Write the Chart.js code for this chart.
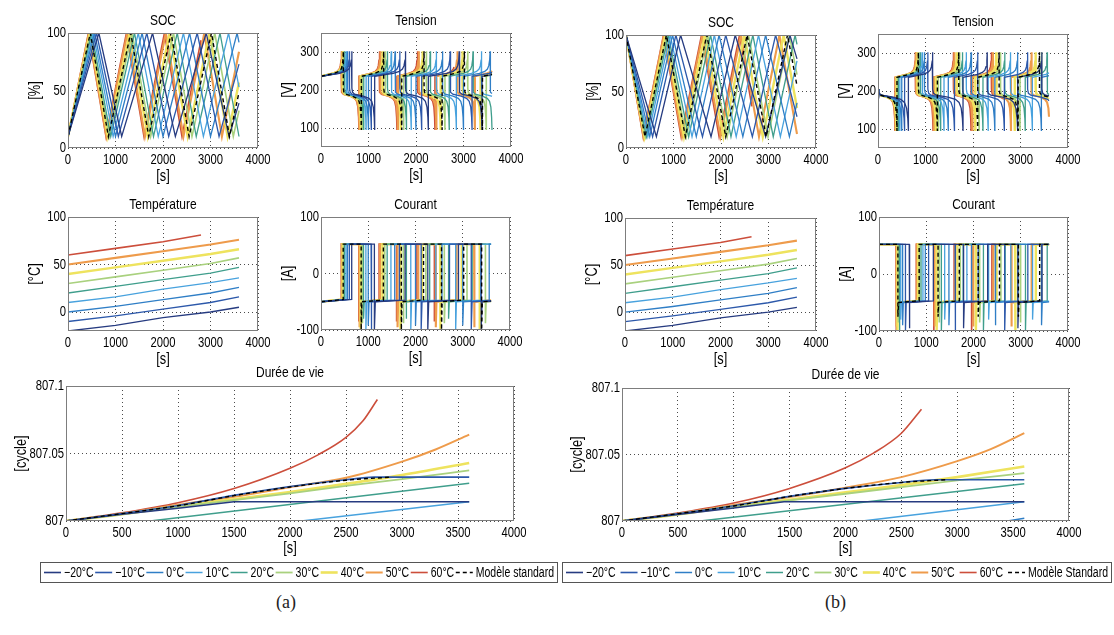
<!DOCTYPE html>
<html>
<head>
<meta charset="utf-8">
<script src="https://cdn.jsdelivr.net/npm/chart.js@4.4.1/dist/chart.umd.min.js"></script>
<style>
  body { margin: 0; background: #fff; width: 1114px; height: 635px; position: relative; overflow: hidden; }
  canvas { position: absolute; }
  .cap { position: absolute; top: 592px; font: 18px 'Liberation Serif', 'DejaVu Serif', serif; color: #222; }
</style>
</head>
<body>
<canvas id="socA"></canvas><canvas id="voltA"></canvas><canvas id="tempA"></canvas><canvas id="currA"></canvas><canvas id="lifeA"></canvas>
<canvas id="socB"></canvas><canvas id="voltB"></canvas><canvas id="tempB"></canvas><canvas id="currB"></canvas><canvas id="lifeB"></canvas>
<div class="cap" style="left:276px">(a)</div>
<div class="cap" style="left:825px">(b)</div>
<script>
// ---- labels / ticks ----
const tempNames = ['−20°C', '−10°C', '0°C', '10°C', '20°C', '30°C', '40°C', '50°C', '60°C'];
const stdNameA = 'Modèle standard';
const stdNameB = 'Modèle Standard';
const palette = ['#263b80', '#2c58aa', '#2f7ec6', '#48a2de', '#3f9e8c', '#a9d17e', '#eee35e', '#ee9b4b', '#cc4e3b'];
const tTicks = [0, 1000, 2000, 3000, 4000];
const tTicksLife = [0, 500, 1000, 1500, 2000, 2500, 3000, 3500, 4000];
const socTicks = [0, 50, 100];
const voltTicks = [100, 200, 300];
const tempTicks = [0, 50, 100];
const currTicks = [-100, 0, 100];
const lifeTicks = [807, 807.05, 807.1];
const lifeTickLabels = ['807', '807.05', '807.1'];

// ---- cycle turning points (s): SOC alternates 10 % / 100 % ----
// (a) starts low (charging), order: -20,-10,0,10,20,30,40,50,60,standard
const cycA_m20 = [0, 650, 1130, 1780, 2260, 2910, 3390, 4040];
const cycA_m10 = [0, 600, 1060, 1660, 2120, 2720, 3180, 3780];
const cycA_p0 = [0, 560, 1000, 1560, 2000, 2560, 3000, 3560, 4000];
const cycA_p10 = [0, 530, 950, 1480, 1900, 2430, 2850, 3380, 3800];
const cycA_p20 = [0, 500, 900, 1400, 1800, 2300, 2700, 3200, 3600];
const cycA_p30 = [0, 480, 870, 1350, 1740, 2220, 2610, 3090, 3480, 3960];
const cycA_p40 = [0, 460, 840, 1300, 1680, 2140, 2520, 2980, 3360, 3820];
const cycA_p50 = [0, 440, 810, 1250, 1620, 2060, 2430, 2870, 3240, 3680];
const cycA_p60 = [0, 430, 800, 1230, 1600, 2030, 2400, 2830, 3200];
const cycA_std = [0, 470, 850, 1320, 1700, 2170, 2550, 3020, 3400, 3870];
const endA = [3600, 3600, 3600, 3600, 3600, 3600, 3600, 3600, 2800, 3600];
const spikeA = [-100, -100, -92, -100, -80, -88, -100, -95, -85, -100];
// (b) starts high (discharging)
const cycB_m20 = [0, 640, 1150, 1790, 2300, 2940, 3450, 4090];
const cycB_m10 = [0, 560, 1050, 1610, 2100, 2660, 3150, 3710];
const cycB_p0 = [0, 500, 980, 1480, 1960, 2460, 2940, 3440, 3920];
const cycB_p10 = [0, 460, 930, 1390, 1860, 2320, 2790, 3250, 3720];
const cycB_p20 = [0, 430, 890, 1320, 1780, 2210, 2670, 3100, 3560, 3990];
const cycB_p30 = [0, 410, 860, 1270, 1720, 2130, 2580, 2990, 3440, 3850];
const cycB_p40 = [0, 390, 830, 1220, 1660, 2050, 2490, 2880, 3320, 3710];
const cycB_p50 = [0, 370, 800, 1180, 1610, 1990, 2420, 2800, 3230, 3610];
const cycB_p60 = [0, 360, 790, 1160, 1590, 1960, 2390, 2760];
const cycB_std = [0, 400, 850, 1250, 1700, 2100, 2550, 2950, 3400, 3800];
const endB = [3600, 3600, 3600, 3600, 3600, 3600, 3600, 3600, 2650, 3600];
const spikeB = [-95, -100, -90, -80, -100, -85, -100, -92, -100, -75];

// ---- shape of one phase: [fraction of phase, value] ----
const socCharge = [[0, 10], [1, 100]];
const socDischarge = [[0, 100], [1, 10]];
const voltCharge = [[0, 236], [0.3, 240], [0.6, 244], [0.8, 249], [0.9, 255], [0.95, 264], [0.985, 280], [1, 302]];
const voltDischarge = [[0, 205], [0.03, 194], [0.12, 189], [0.5, 184], [0.75, 178], [0.87, 170], [0.94, 155], [0.98, 128], [1, 95]];
const currCharge = [[0, -100], [0.03, -50], [1, -47]];
const currChargeFirst = [[0, -50], [1, -46]];
const currDischarge = [[0, 52], [1, 52]];

// ---- temperature [°C] ----
const tempA_m20 = [[0, -20], [1000, -14], [2000, -6], [3000, 0], [3600, 5]];
const tempA_m10 = [[0, -10], [1000, -4], [2000, 3], [3000, 10], [3600, 16]];
const tempA_p0 = [[0, 0], [1000, 6], [2000, 13], [3000, 20], [3600, 26]];
const tempA_p10 = [[0, 10], [1000, 16], [2000, 24], [3000, 31], [3600, 36]];
const tempA_p20 = [[0, 20], [1000, 27], [2000, 34], [3000, 41], [3600, 47]];
const tempA_p30 = [[0, 30], [1000, 37], [2000, 44], [3000, 51], [3600, 57]];
const tempA_p40 = [[0, 40], [1000, 47], [2000, 54], [3000, 61], [3600, 66]];
const tempA_p50 = [[0, 50], [1000, 57], [2000, 64], [3000, 71], [3600, 76]];
const tempA_p60 = [[0, 60], [1000, 67], [2000, 74], [2800, 81]];
const tempB_p60 = [[0, 60], [1000, 67], [2000, 74], [2650, 80]];

// ---- lifetime [cycle] ----
const lifeA_m20 = [[0, 807], [500, 807.005], [1000, 807.0095], [1500, 807.0143], [3600, 807.0143]];
const lifeA_m10 = [[0, 807], [500, 807.0055], [1000, 807.0115], [1500, 807.019], [2000, 807.0255], [2500, 807.0305], [2750, 807.0325], [3600, 807.0325]];
const lifeA_p0 = [[0, 807], [3600, 807]];
const lifeA_p10 = [[0, 807], [2100, 807], [3600, 807.0143]];
const lifeA_p20 = [[0, 807], [750, 807], [3600, 807.028]];
const lifeA_p30 = [[0, 807], [500, 807.005], [1000, 807.0105], [1500, 807.0155], [2000, 807.0205], [2500, 807.026], [3000, 807.031], [3600, 807.0375]];
const lifeA_p40 = [[0, 807], [500, 807.005], [1000, 807.011], [1500, 807.016], [2000, 807.0215], [2500, 807.0275], [3000, 807.034], [3600, 807.043]];
const lifeA_p50 = [[0, 807], [500, 807.0055], [1000, 807.012], [1500, 807.018], [2000, 807.025], [2500, 807.032], [3000, 807.044], [3300, 807.053], [3600, 807.064]];
const lifeA_p60 = [[0, 807], [500, 807.006], [1000, 807.0135], [1500, 807.024], [2000, 807.039], [2250, 807.049], [2500, 807.062], [2650, 807.074], [2780, 807.09]];
const lifeA_std = [[0, 807], [500, 807.0055], [1000, 807.0113], [1500, 807.0188], [2000, 807.0252], [2500, 807.0302], [2900, 807.0325]];

const lifeB_m20 = [[0, 807], [500, 807.005], [1000, 807.0098], [1450, 807.0145], [3600, 807.0145]];
const lifeB_m10 = [[0, 807], [500, 807.0055], [1000, 807.0115], [1500, 807.0185], [2000, 807.0245], [2500, 807.029], [2800, 807.031], [3600, 807.031]];
const lifeB_p0 = [[0, 807], [3450, 807], [3600, 807.002]];
const lifeB_p10 = [[0, 807], [2150, 807], [3600, 807.0145]];
const lifeB_p20 = [[0, 807], [700, 807], [3600, 807.028]];
const lifeB_p30 = [[0, 807], [500, 807.005], [1000, 807.0105], [1500, 807.0155], [2000, 807.0205], [2500, 807.0255], [3000, 807.0305], [3600, 807.036]];
const lifeB_p40 = [[0, 807], [500, 807.005], [1000, 807.011], [1500, 807.016], [2000, 807.0215], [2500, 807.027], [3000, 807.033], [3600, 807.041]];
const lifeB_p50 = [[0, 807], [500, 807.0055], [1000, 807.012], [1500, 807.018], [2000, 807.025], [2500, 807.033], [3000, 807.045], [3300, 807.054], [3600, 807.066]];
const lifeB_p60 = [[0, 807], [500, 807.006], [1000, 807.0135], [1500, 807.0245], [2000, 807.04], [2250, 807.051], [2500, 807.066], [2680, 807.084]];
const lifeB_std = [[0, 807], [500, 807.0055], [1000, 807.0113], [1500, 807.0185], [2000, 807.0245], [2500, 807.029], [2900, 807.031]];

const cyclesA = [cycA_m20, cycA_m10, cycA_p0, cycA_p10, cycA_p20, cycA_p30, cycA_p40, cycA_p50, cycA_p60, cycA_std];
const cyclesB = [cycB_m20, cycB_m10, cycB_p0, cycB_p10, cycB_p20, cycB_p30, cycB_p40, cycB_p50, cycB_p60, cycB_std];

const FONT = "'Liberation Sans', Arial, sans-serif";
const thinW = [1.3, 1.3, 1.3, 1.3, 1.3, 1.6, 2.4, 2.1, 1.6];
const lifeW = [1.6, 1.6, 1.5, 1.5, 1.5, 1.8, 2.6, 2.0, 1.6];

// lay one profile per phase between the turning points, cut at the end time
function phase(times, end, startLow, chargeProf, dischargeProf, spike) {
  const pts = [];
  for (let i = 0; i + 1 < times.length && times[i] < end; i++) {
    const t0 = times[i], t1 = times[i + 1];
    const charging = (i % 2 === 0) === startLow;
    let prof = charging ? chargeProf : dischargeProf;
    if (charging && spike !== undefined) prof = i === 0 ? currChargeFirst : [[0, spike]].concat(prof.slice(1));
    for (let k = 0; k < prof.length; k++) {
      const t = t0 + prof[k][0] * (t1 - t0);
      if (t > end) {
        const tp = t0 + prof[k - 1][0] * (t1 - t0);
        pts.push({x: end, y: prof[k - 1][1] + (prof[k][1] - prof[k - 1][1]) * (end - tp) / (t - tp)});
        return pts;
      }
      pts.push({x: t, y: prof[k][1]});
    }
  }
  return pts;
}

const xy = arr => arr.map(p => ({x: p[0], y: p[1]}));

function makeSets(series, stdLabel, widths, smooth) {
  return series.map((data, i) => Object.assign(i < 9 ? {
    label: tempNames[i], data, borderColor: palette[i], backgroundColor: palette[i],
    borderWidth: widths[i], pointRadius: 0, order: 1
  } : {
    label: stdLabel, data, borderColor: '#000', backgroundColor: '#000',
    borderWidth: 1.4, borderDash: [4, 3], pointRadius: 0, order: 0
  }, smooth && data.length > 5 ? {cubicInterpolationMode: 'monotone'} : {}));
}

// narrow text, the scan uses a condensed face
function txt(ctx, s, x, y, align, size, squeeze) {
  ctx.save();
  ctx.font = size + 'px ' + FONT;
  ctx.textAlign = align;
  ctx.textBaseline = 'middle';
  ctx.translate(x, y);
  ctx.scale(squeeze, 1);
  ctx.fillText(s, 0, 0);
  ctx.restore();
}
function txtWidth(ctx, s, size, squeeze) {
  ctx.font = size + 'px ' + FONT;
  return ctx.measureText(s).width * squeeze;
}

// titles, tick labels, axis labels, box frame, legend
const matlabText = {
  id: 'matlabText',
  afterDraw(chart, args, o) {
    const {ctx, chartArea: a} = chart;
    const sx = chart.scales.x, sy = chart.scales.y;
    ctx.save();
    ctx.setLineDash([]);
    ctx.strokeStyle = '#7d7d7d';
    ctx.lineWidth = 1;
    ctx.strokeRect(a.left + 0.5, a.top + 0.5, a.right - a.left - 1, a.bottom - a.top - 1);
    ctx.fillStyle = '#000';
    const cx = (a.left + a.right) / 2;
    o.xTicks.forEach(v => txt(ctx, String(v), sx.getPixelForValue(v), a.bottom + 12, 'center', 15, 0.75));
    o.yTicks.forEach((v, i) => txt(ctx, o.yLabels ? o.yLabels[i] : String(v), a.left - 2, sy.getPixelForValue(v), 'right', 15, 0.75));
    txt(ctx, o.title, cx, a.top - o.titleGap, 'center', 15, 0.8);
    txt(ctx, '[s]', cx, a.bottom + o.xGap, 'center', 16, 0.8);
    ctx.translate(a.left - o.yGap, (a.top + a.bottom) / 2);
    ctx.rotate(-Math.PI / 2);
    txt(ctx, o.ylab, 0, 0, 'center', 16, 0.8);
    ctx.restore();
    if (o.legend) drawLegend(chart, o.legend);
  }
};

// legend box in page pixels: [left, top, right, bottom]
function drawLegend(chart, lg) {
  const ctx = chart.ctx;
  const [l, t, r, b] = [lg.box[0] - lg.L, lg.box[1] - lg.T, lg.box[2] - lg.L, lg.box[3] - lg.T];
  const sets = chart.data.datasets;
  const sample = 17, gapText = 3, size = 14, sq = 0.75;
  const widths = sets.map(d => sample + gapText + txtWidth(ctx, d.label, size, sq));
  const total = widths.reduce((s, w) => s + w, 0);
  const gap = (r - l - 8 - total) / (sets.length - 1);
  ctx.save();
  ctx.strokeStyle = '#555';
  ctx.lineWidth = 1;
  ctx.strokeRect(l + 0.5, t + 0.5, r - l - 1, b - t - 1);
  const cy = (t + b) / 2;
  let x = l + 4;
  sets.forEach((d, i) => {
    ctx.beginPath();
    ctx.strokeStyle = d.borderColor;
    ctx.lineWidth = d.borderWidth;
    ctx.setLineDash(d.borderDash || []);
    ctx.moveTo(x, cy);
    ctx.lineTo(x + sample, cy);
    ctx.stroke();
    ctx.setLineDash([]);
    ctx.fillStyle = '#000';
    txt(ctx, d.label, x + sample + gapText, cy + 0.5, 'left', size, sq);
    x += widths[i] + gap;
  });
  ctx.restore();
}

function axis(min, max, ticks, fit) {
  return {
    type: 'linear', min, max,
    afterBuildTicks: s => { s.ticks = ticks.map(v => ({value: v})); },
    afterFit: fit,
    ticks: {display: false},
    grid: {color: 'rgba(30,30,30,0.8)', lineWidth: 1, drawTicks: false},
    border: {display: false, dash: [1, 3]}
  };
}

// area = [left, top, right, bottom] of the plot box in page pixels
function draw(id, area, datasets, yMin, yMax, yTicks, text, xTicks, extra) {
  const [x1, y1, x2, y2] = area;
  const e = extra || {};
  const L = e.L !== undefined ? e.L : x1 - 62;
  const T = e.T !== undefined ? e.T : y1 - 30;
  const W = e.W !== undefined ? e.W : x2 - L + 24;
  const H = e.H !== undefined ? e.H : y2 - T + 42;
  const cv = document.getElementById(id);
  cv.width = W; cv.height = H;
  cv.style.left = L + 'px'; cv.style.top = T + 'px';
  cv.style.width = W + 'px'; cv.style.height = H + 'px';
  const xt = xTicks || tTicks;
  text.xTicks = xt;
  text.yTicks = yTicks;
  text.yLabels = e.yLabels;
  if (e.legendBox) text.legend = {box: e.legendBox, L, T};
  return new Chart(cv, {
    type: 'line',
    data: {datasets},
    options: {
      responsive: false, animation: false, devicePixelRatio: 1,
      layout: {padding: {left: 0, right: L + W - x2, top: y1 - T, bottom: H - (y2 - T) - 38}},
      scales: {
        x: axis(0, 4000, xt, s => { s.height = 38; }),
        y: axis(yMin, yMax, yTicks, s => { s.width = x1 - L; })
      },
      elements: {line: {tension: 0}},
      plugins: {
        legend: {display: false},
        tooltip: {enabled: false},
        matlabText: text
      }
    },
    plugins: [matlabText]
  });
}

function buildPanel(p) {
  const cyc = p.cycles, end = p.end;
  const soc = cyc.map((c, i) => phase(c, end[i], p.startLow, socCharge, socDischarge));
  const volt = cyc.map((c, i) => phase(c, end[i], p.startLow, voltCharge, voltDischarge));
  const curr = cyc.map((c, i) => phase(c, end[i], p.startLow, currCharge, currDischarge, p.spike[i]));
  const tS = () => ({titleGap: 12, xGap: 29, yGap: 32});
  draw(p.ids[0], p.areas[0], makeSets(soc, p.std, thinW), 0, 100, socTicks, Object.assign({title: 'SOC', ylab: '[%]'}, tS()));
  draw(p.ids[1], p.areas[1], makeSets(volt, p.std, thinW), 50, 350, voltTicks, Object.assign({title: 'Tension', ylab: '[V]'}, tS()));
  draw(p.ids[2], p.areas[2], makeSets(p.temp.map(xy), p.std, thinW), -20, 100, tempTicks, Object.assign({title: 'Température', ylab: '[°C]'}, tS()));
  draw(p.ids[3], p.areas[3], makeSets(curr, p.std, thinW), -100, 100, currTicks, Object.assign({title: 'Courant', ylab: '[A]'}, tS()));
  draw(p.ids[4], p.areas[4], makeSets(p.life.map(xy), p.std, lifeW, true), 807, 807.1, lifeTicks,
    {title: 'Durée de vie', ylab: '[cycle]', titleGap: 13, xGap: 28, yGap: 44}, tTicksLife, p.lifeBox);
}

buildPanel({
  ids: ['socA', 'voltA', 'tempA', 'currA', 'lifeA'],
  areas: [[68, 33, 258, 148], [321, 33, 511, 147], [68, 217, 258, 331], [321, 217, 510, 330], [66, 386, 514, 521]],
  cycles: cyclesA, end: endA, startLow: true, spike: spikeA, std: stdNameA,
  temp: [tempA_m20, tempA_m10, tempA_p0, tempA_p10, tempA_p20, tempA_p30, tempA_p40, tempA_p50, tempA_p60, []],
  life: [lifeA_m20, lifeA_m10, lifeA_p0, lifeA_p10, lifeA_p20, lifeA_p30, lifeA_p40, lifeA_p50, lifeA_p60, lifeA_std],
  lifeBox: {L: 0, T: 356, W: 560, H: 235, yLabels: lifeTickLabels, legendBox: [40, 562, 558, 583]}
});
buildPanel({
  ids: ['socB', 'voltB', 'tempB', 'currB', 'lifeB'],
  areas: [[626, 35, 816, 148], [878, 34, 1068, 148], [625, 218, 816, 331], [879, 217, 1068, 331], [622, 388, 1069, 521]],
  cycles: cyclesB, end: endB, startLow: false, spike: spikeB, std: stdNameB,
  temp: [tempA_m20, tempA_m10, tempA_p0, tempA_p10, tempA_p20, tempA_p30, tempA_p40, tempA_p50, tempB_p60, []],
  life: [lifeB_m20, lifeB_m10, lifeB_p0, lifeB_p10, lifeB_p20, lifeB_p30, lifeB_p40, lifeB_p50, lifeB_p60, lifeB_std],
  lifeBox: {L: 560, T: 358, W: 554, H: 233, yLabels: lifeTickLabels, legendBox: [562, 562, 1112, 583]}
});
</script>
</body>
</html>
